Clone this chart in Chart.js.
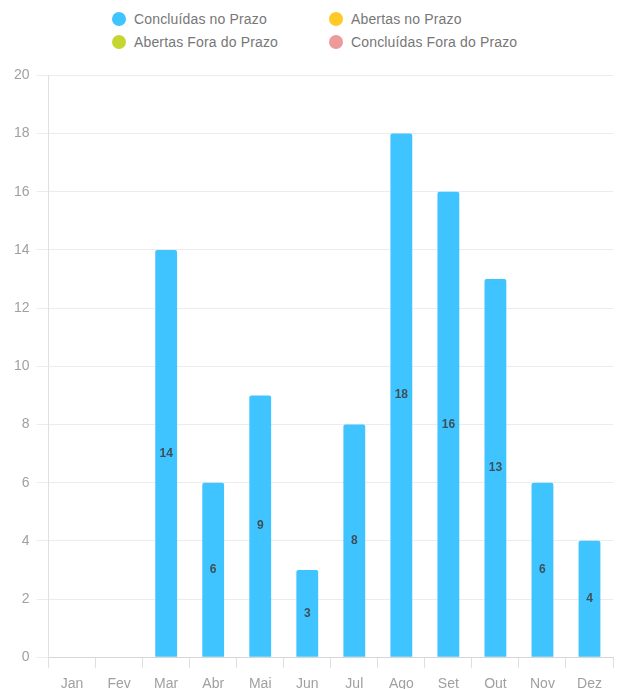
<!DOCTYPE html>
<html>
<head>
<meta charset="utf-8">
<script src="https://cdn.jsdelivr.net/npm/chart.js@4"></script>
<style>
  body { margin: 0; background: #fff; font-family: 'Liberation Sans', Arial, sans-serif; overflow: hidden; }
  #legenda { position: relative; width: 617px; height: 60px; }
  .item { position: absolute; font-size: 14px; color: #777; line-height: 18px; white-space: nowrap; letter-spacing: 0.15px; }
  .item span { position: absolute; left: -22px; top: 2px; width: 14px; height: 14px; border-radius: 50%; }
  #wrap { width: 617px; height: 641px; }
</style>
</head>
<body>
<div id="legenda"></div>
<div id="wrap"><canvas id="grafico"></canvas></div>
<script>
const meses = ['Jan', 'Fev', 'Mar', 'Abr', 'Mai', 'Jun', 'Jul', 'Ago', 'Set', 'Out', 'Nov', 'Dez'];
const concluidasNoPrazo = [0, 0, 14, 6, 9, 3, 8, 18, 16, 13, 6, 4];
const abertasNoPrazo = [0, 0, 0, 0, 0, 0, 0, 0, 0, 0, 0, 0];
const abertasForaPrazo = [0, 0, 0, 0, 0, 0, 0, 0, 0, 0, 0, 0];
const concluidasForaPrazo = [0, 0, 0, 0, 0, 0, 0, 0, 0, 0, 0, 0];
const ticksY = [0, 2, 4, 6, 8, 10, 12, 14, 16, 18, 20];
const fonte = "'Liberation Sans', Arial, sans-serif";

// rotulo no meio da barra
const rotulos = {
    id: 'rotulos',
    afterDatasetsDraw(chart) {
        const ctx = chart.ctx;
        ctx.save();
        ctx.font = 'bold 12px ' + fonte;
        ctx.fillStyle = '#3d5059';
        ctx.textAlign = 'center';
        ctx.textBaseline = 'middle';
        chart.data.datasets.forEach((ds, i) => {
            chart.getDatasetMeta(i).data.forEach((bar, j) => {
                if (!ds.data[j]) return;
                const p = bar.getProps(['x', 'y', 'base'], true);
                ctx.fillText(ds.data[j], p.x, (p.y + p.base) / 2);
            });
        });
        ctx.restore();
    }
};

const ctx = document.getElementById('grafico').getContext('2d');
const grafico = new Chart(ctx, {
    type: 'bar',
    data: {
        labels: meses,
        datasets: [
            { label: 'Concluídas no Prazo', data: concluidasNoPrazo, backgroundColor: '#40c4ff' },
            { label: 'Abertas no Prazo', data: abertasNoPrazo, backgroundColor: '#ffca28' },
            { label: 'Abertas Fora do Prazo', data: abertasForaPrazo, backgroundColor: '#c6d630' },
            { label: 'Concluídas Fora do Prazo', data: concluidasForaPrazo, backgroundColor: '#ec9a9a' }
        ]
    },
    options: {
        responsive: true,
        maintainAspectRatio: false,
        animation: false,
        layout: { padding: { top: 1, left: 7, right: 4, bottom: 0 } },
        datasets: { bar: { barPercentage: 0.58, categoryPercentage: 0.8, borderRadius: 2 } },
        plugins: {
            legend: { display: false },
            tooltip: { enabled: false }
        },
        scales: {
            x: {
                stacked: true,
                grid: { drawOnChartArea: false, color: '#e0e0e0', tickLength: 11 },
                border: { color: '#d6d6d6' },
                ticks: { color: '#a0a0a0', font: { family: fonte, size: 14 }, padding: 8 }
            },
            y: {
                stacked: true,
                min: 0,
                max: 20,
                afterBuildTicks: (axis) => { axis.ticks = ticksY.map(v => ({ value: v })); },
                grid: { color: '#ececec', tickLength: 12 },
                border: { color: '#e0e0e0' },
                ticks: { color: '#a0a0a0', font: { family: fonte, size: 14 }, padding: 7 }
            }
        }
    },
    plugins: [rotulos]
});

// legenda em duas colunas
const legenda = document.getElementById('legenda');
const posicoes = [[134, 10], [351, 10], [134, 33], [351, 33]];
grafico.data.datasets.forEach((ds, i) => {
    const el = document.createElement('div');
    el.className = 'item';
    el.style.left = posicoes[i][0] + 'px';
    el.style.top = posicoes[i][1] + 'px';
    el.innerHTML = '<span style="background:' + ds.backgroundColor + '"></span>' + ds.label;
    legenda.appendChild(el);
});
</script>
</body>
</html>
